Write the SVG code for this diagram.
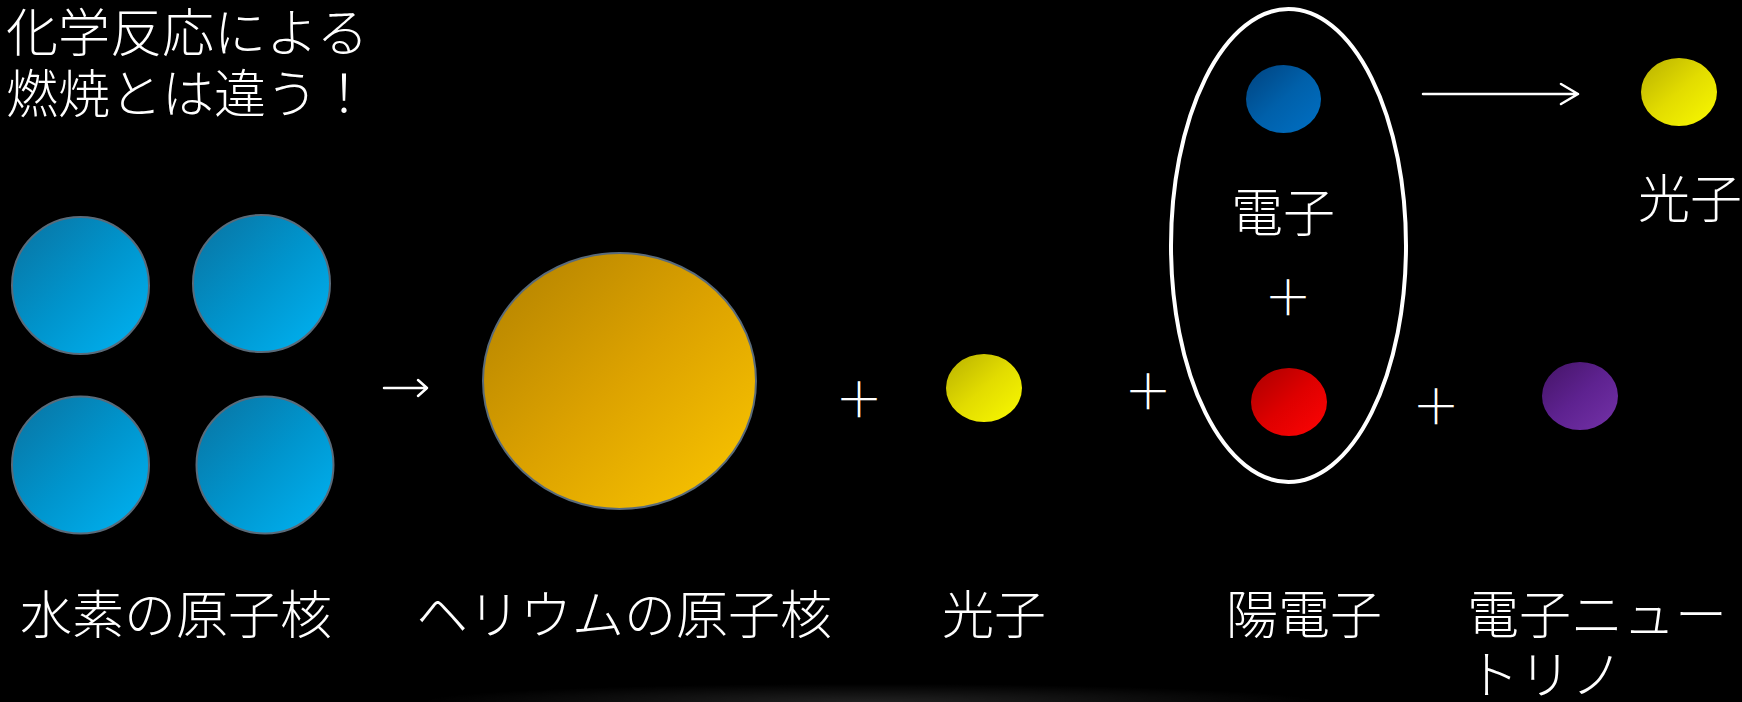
<svg xmlns="http://www.w3.org/2000/svg" width="1742" height="702" viewBox="0 0 1742 702">
<defs>
<linearGradient id="gBlue" x1="0" y1="0" x2="1" y2="1"><stop offset="0" stop-color="#0a72a0"/><stop offset="0.5" stop-color="#0094cc"/><stop offset="1" stop-color="#00b4f4"/></linearGradient>
<linearGradient id="gGold" x1="0" y1="0" x2="1" y2="1"><stop offset="0" stop-color="#b08000"/><stop offset="0.5" stop-color="#dca200"/><stop offset="1" stop-color="#fcc800"/></linearGradient>
<linearGradient id="gYellow" x1="0" y1="0" x2="1" y2="1"><stop offset="0" stop-color="#b8b000"/><stop offset="0.5" stop-color="#e2dc00"/><stop offset="1" stop-color="#fafa00"/></linearGradient>
<linearGradient id="gElec" x1="0" y1="0" x2="1" y2="1"><stop offset="0" stop-color="#00427e"/><stop offset="0.5" stop-color="#0060aa"/><stop offset="1" stop-color="#0070c4"/></linearGradient>
<linearGradient id="gRed" x1="0" y1="0" x2="1" y2="1"><stop offset="0" stop-color="#a80000"/><stop offset="0.5" stop-color="#de0000"/><stop offset="1" stop-color="#ff0404"/></linearGradient>
<linearGradient id="gPurple" x1="0" y1="0" x2="1" y2="1"><stop offset="0" stop-color="#441466"/><stop offset="0.5" stop-color="#5e2290"/><stop offset="1" stop-color="#7432a8"/></linearGradient>
<radialGradient id="gGlow" cx="0.5" cy="1" r="0.5" gradientTransform="translate(0.5 1) scale(1 0.3) translate(-0.5 -1)">
<stop offset="0" stop-color="#ffffff" stop-opacity="0.13"/><stop offset="1" stop-color="#ffffff" stop-opacity="0"/></radialGradient>
<style>
.t{font-family:"Noto Sans CJK JP","Noto Sans CJK SC",sans-serif;fill:#ffffff;font-size:52px;font-weight:300}
.nuc{stroke:#5a6b7a;stroke-width:2}
.pl{font-family:"Noto Sans CJK JP",sans-serif;fill:#ffffff;font-size:48px;font-weight:300;text-anchor:middle}
.ln{stroke:#ffffff;stroke-width:2.5;fill:none;stroke-linecap:round;stroke-linejoin:round}
</style>
</defs>
<rect width="1742" height="702" fill="#000000"/>
<rect x="420" y="580" width="900" height="122" fill="url(#gGlow)"/>

<g id="title">
<text class="t" x="6" y="52">化学反応による</text>
<text class="t" x="6" y="113">燃焼とは違う！</text>
</g>

<g id="hydrogen">
<circle class="nuc" cx="80.5" cy="285.5" r="68.5" fill="url(#gBlue)"/>
<circle class="nuc" cx="261.5" cy="283.5" r="68.5" fill="url(#gBlue)"/>
<circle class="nuc" cx="80.5" cy="465" r="68.5" fill="url(#gBlue)"/>
<circle class="nuc" cx="265" cy="465" r="68.5" fill="url(#gBlue)"/>
<text class="t" x="20" y="634">水素の原子核</text>
</g>

<g id="helium">
<ellipse class="nuc" cx="619.5" cy="381" rx="136.5" ry="128" fill="url(#gGold)"/>
<text class="t" x="416" y="634">ヘリウムの原子核</text>
</g>

<g id="photon">
<ellipse cx="984" cy="388" rx="38" ry="34" fill="url(#gYellow)"/>
<text class="t" x="942" y="634">光子</text>
</g>

<g id="positron-group">
<ellipse cx="1288.5" cy="245.5" rx="117.5" ry="236.5" fill="none" stroke="#ffffff" stroke-width="4"/>
<ellipse cx="1283.5" cy="99" rx="37.5" ry="34" fill="url(#gElec)"/>
<text class="t" x="1283" y="232" text-anchor="middle">電子</text>
<ellipse cx="1289" cy="402" rx="38" ry="34" fill="url(#gRed)"/>
<text class="t" x="1226" y="634">陽電子</text>
</g>

<g id="neutrino">
<ellipse cx="1580" cy="396" rx="38" ry="34" fill="url(#gPurple)"/>
<text class="t" x="1467" y="634">電子ニュー</text>
<text class="t" x="1467" y="694">トリノ</text>
</g>

<g id="photon2">
<ellipse cx="1679" cy="92" rx="38" ry="34" fill="url(#gYellow)"/>
<text class="t" x="1638" y="218">光子</text>
</g>

<g id="plus-signs">
<text class="pl" x="859" y="417">＋</text>
<text class="pl" x="1148" y="409">＋</text>
<text class="pl" x="1288" y="315">＋</text>
<text class="pl" x="1436" y="424">＋</text>
</g>

<g id="connectors">
<path class="ln" d="M384 388 H427 M418 380 L427 388 L418 396"/>
<path class="ln" d="M1423 94 H1578 M1561 84 L1578 94 L1561 104"/>
</g>
</svg>
